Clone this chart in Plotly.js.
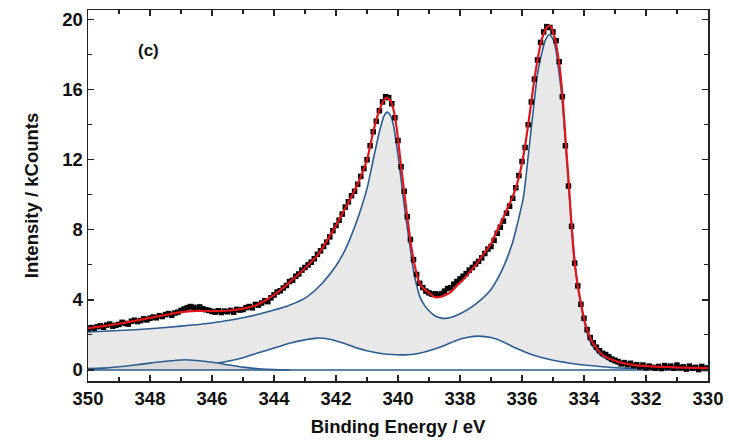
<!DOCTYPE html>
<html>
<head>
<meta charset="utf-8">
<script src="https://cdn.plot.ly/plotly-3.0.1.min.js"></script>
<style>
  html, body { margin: 0; padding: 0; background: #ffffff; }
  #plot { width: 729px; height: 445px; }
</style>
</head>
<body>
<div id="plot"></div>
<script>
// Measured spectrum: binding energy grid (eV) and intensity (kCounts)
const dataStart = 350.0;
const dataStep = -0.1;
const dataI = [
  2.35, 2.42, 2.38, 2.47, 2.52, 2.44, 2.56, 2.62, 2.50, 2.55,
  2.60, 2.72, 2.66, 2.62, 2.78, 2.84, 2.76, 2.82, 2.92, 2.86,
  2.95, 3.02, 2.98, 3.10, 3.05, 3.16, 3.22, 3.12, 3.25, 3.30,
  3.40, 3.48, 3.55, 3.62, 3.58, 3.52, 3.60, 3.50, 3.44, 3.40,
  3.34, 3.30, 3.38, 3.28, 3.36, 3.32, 3.40, 3.30, 3.46, 3.42,
  3.45, 3.56, 3.62, 3.55, 3.74, 3.70, 3.82, 3.95, 3.90, 4.12,
  4.28, 4.45, 4.52, 4.68, 4.82, 5.05, 5.12, 5.35, 5.48, 5.70,
  5.85, 6.00, 6.15, 6.35, 6.60, 6.80, 7.05, 7.30, 7.60, 7.95,
  8.25, 8.55, 8.90, 9.30, 9.60, 9.95, 10.20, 10.60, 11.05, 11.50,
  12.00, 12.80, 13.60, 14.20, 14.80, 15.30, 15.60, 15.55, 15.20, 14.40,
  13.10, 11.60, 10.20, 8.75, 7.45, 6.30, 5.45, 4.95, 4.70, 4.50,
  4.40, 4.32, 4.35, 4.28, 4.36, 4.50, 4.65, 4.70, 4.90, 5.05,
  5.20, 5.35, 5.50, 5.70, 5.85, 6.05, 6.20, 6.40, 6.65, 6.90,
  7.05, 7.40, 7.80, 8.15, 8.50, 8.95, 9.35, 9.80, 10.40, 11.10,
  11.90, 12.70, 14.00, 15.30, 16.60, 17.70, 18.70, 19.30, 19.60, 19.55,
  19.30, 18.80, 17.60, 15.60, 12.80, 10.50, 8.20, 6.10, 4.80, 3.75,
  2.95, 2.30, 1.85, 1.55, 1.30, 1.10, 0.95, 0.88, 0.75, 0.62,
  0.55, 0.48, 0.35, 0.42, 0.30, 0.38, 0.25, 0.30, 0.18, 0.28,
  0.12, 0.22, 0.15, 0.10, 0.20, 0.08, 0.25, 0.14, 0.22, 0.10,
  0.28, 0.12, 0.18, 0.05, 0.22, 0.10, 0.15, 0.02, 0.20, 0.08,
  0.12
];
const dataE = dataI.map((_, i) => +(dataStart + i * dataStep).toFixed(1));

// Total fit envelope
const envE = [350, 349.5, 349, 348.5, 348, 347.5, 347, 346.5, 346, 345.5, 345, 344.6, 344.2, 343.8,
  343.5, 343.16, 342.62, 342.08, 341.65, 341.33, 341.0, 340.8, 340.6, 340.45, 340.37, 340.25,
  340.15, 340.05, 339.95, 339.85, 339.72, 339.61, 339.5, 339.4, 339.3, 339.15, 339.0, 338.86,
  338.7, 338.54, 338.3, 338.11, 337.9, 337.68, 337.45, 337.25, 337.0, 336.82, 336.65, 336.5,
  336.3, 336.2, 336.1, 336.0, 335.9, 335.8, 335.7, 335.6, 335.5, 335.4, 335.3, 335.2, 335.12,
  335.05, 334.95, 334.88, 334.8, 334.72, 334.65, 334.58, 334.5, 334.42, 334.35, 334.28, 334.2,
  334.1, 334.0, 333.9, 333.7, 333.38, 332.95, 332.3, 331.2, 330];
const envI = [2.38, 2.5, 2.64, 2.8, 2.97, 3.14, 3.3, 3.37, 3.36, 3.38, 3.5, 3.68, 4.05, 4.55,
  5.0, 5.55, 6.5, 8.0, 9.4, 10.5, 12.0, 13.6, 14.85, 15.4, 15.55, 15.4,
  14.9, 13.9, 12.4, 10.9, 9.0, 7.5, 6.3, 5.5, 4.95, 4.6, 4.4, 4.2,
  4.15, 4.22, 4.45, 4.8, 5.15, 5.6, 6.1, 6.6, 7.2, 7.9, 8.5, 9.1,
  9.9, 10.4, 11.0, 11.8, 12.8, 14.0, 15.3, 16.6, 17.7, 18.6, 19.2, 19.55, 19.65,
  19.55, 19.0, 18.4, 17.5, 16.2, 14.6, 12.8, 10.9, 8.7, 7.0, 5.8, 4.8,
  3.8, 2.95, 2.3, 1.5, 0.83, 0.49, 0.26, 0.16, 0.1];

// Main doublet component on its background
const mainE = [350, 349, 348, 347, 346, 345.5, 345, 344.5, 344, 343.5, 343, 342.5, 342, 341.75,
  341.5, 341.25, 341.0, 340.8, 340.6, 340.45, 340.35, 340.25, 340.15, 340.05, 339.94, 339.8,
  339.7, 339.6, 339.5, 339.4, 339.3, 339.15, 339.0, 338.8, 338.6, 338.4, 338.2, 338.0, 337.7,
  337.35, 337.0, 336.7, 336.5, 336.3, 336.1, 335.95, 335.8, 335.65, 335.5, 335.4, 335.25,
  335.12, 335.0, 334.9, 334.8, 334.72, 334.65, 334.58, 334.5, 334.43, 334.35, 334.28, 334.2,
  334.1, 334.0, 333.9, 333.7, 333.5, 333.38, 333.0, 332.5, 332.0, 331.0, 330.0];
const mainI = [2.17, 2.25, 2.35, 2.50, 2.68, 2.82, 2.98, 3.18, 3.42, 3.70, 4.10, 4.85, 5.95, 6.7,
  7.7, 8.9, 10.35, 12.0, 13.6, 14.5, 14.72, 14.55, 14.0, 12.9, 11.45, 9.4,
  8.1, 6.9, 5.65, 4.85, 4.2, 3.7, 3.38, 3.08, 2.96, 2.96, 3.05, 3.21, 3.5,
  3.97, 4.6, 5.5, 6.3, 7.3, 8.7, 9.9, 12.2, 14.6, 16.9, 17.8, 18.8,
  19.15, 18.9, 18.2, 16.9, 15.7, 14.2, 12.5, 10.6, 9.0, 7.3, 5.9, 4.85,
  3.75, 2.85, 2.1, 1.3, 0.9, 0.73, 0.38, 0.22, 0.15, 0.11, 0.09];

// Satellite doublet component
const satE = [350, 349, 348, 347, 346.5, 346, 345.5, 345, 344.5, 344, 343.5, 343, 342.6, 342.2,
  341.8, 341.4, 341.0, 340.6, 340.2, 339.9, 339.5, 339.0, 338.5, 338.1, 337.7, 337.4, 337.0,
  336.6, 336.2, 335.8, 335.4, 335.0, 334.5, 334.0, 333.5, 333.0, 332.0, 331.0, 330.0];
const satI = [0.08, 0.12, 0.17, 0.23, 0.28, 0.35, 0.5, 0.7, 0.98, 1.25, 1.52, 1.72, 1.82, 1.75,
  1.55, 1.3, 1.1, 0.95, 0.88, 0.86, 0.9, 1.1, 1.4, 1.7, 1.88, 1.93, 1.85,
  1.6, 1.25, 0.95, 0.72, 0.55, 0.4, 0.28, 0.2, 0.13, 0.08, 0.06, 0.05];

// Minor high-energy component
const minorE = [350, 349.5, 349, 348.5, 348, 347.5, 347, 346.9, 346.5, 346, 345.5, 345, 344.5, 344, 343.5];
const minorI = [0.04, 0.1, 0.18, 0.28, 0.39, 0.5, 0.57, 0.58, 0.54, 0.44, 0.3, 0.16, 0.07, 0.02, 0.0];

// Flat baseline
const baseE = [350, 330];
const baseI = [0, 0];

const blue = '#2b5c8f';
const fontFamily = 'Liberation Sans, Arial, sans-serif';
const axisFont = { family: fontFamily, size: 18.5, color: '#111111', weight: 'bold' };

const traces = [
  { x: mainE, y: mainI, type: 'scatter', mode: 'lines', fill: 'tozeroy', fillcolor: '#e8e8e8',
    line: { color: blue, width: 1.6, shape: 'spline', smoothing: 0.6 }, hoverinfo: 'skip' },
  { x: satE, y: satI, type: 'scatter', mode: 'lines', fill: 'tozeroy', fillcolor: '#ffffff',
    line: { color: blue, width: 1.6, shape: 'spline', smoothing: 0.8 }, hoverinfo: 'skip' },
  { x: minorE, y: minorI, type: 'scatter', mode: 'lines', fill: 'tozeroy', fillcolor: '#dadada',
    line: { color: blue, width: 1.6, shape: 'spline', smoothing: 0.8 }, hoverinfo: 'skip' },
  { x: baseE, y: baseI, type: 'scatter', mode: 'lines',
    line: { color: blue, width: 1.6 }, hoverinfo: 'skip' },
  { x: dataE, y: dataI, type: 'scatter', mode: 'markers',
    marker: { symbol: 'square', size: 5.5, color: '#000000' } },
  { x: envE, y: envI, type: 'scatter', mode: 'lines',
    line: { color: '#e0161b', width: 2.2, shape: 'spline', smoothing: 0.6 }, hoverinfo: 'skip' }
];

const layout = {
  width: 729, height: 445,
  margin: { l: 88, r: 21, t: 10, b: 64 },
  paper_bgcolor: '#ffffff', plot_bgcolor: '#ffffff',
  showlegend: false,
  font: axisFont,
  xaxis: {
    range: [350, 330], autorange: false,
    dtick: 2, tick0: 330,
    ticks: 'inside', ticklen: 6, tickwidth: 1.3, tickcolor: '#222',
    minor: { dtick: 1, ticks: 'inside', ticklen: 4, tickwidth: 1.1, tickcolor: '#222' },
    showline: true, linecolor: '#222', linewidth: 1.5, mirror: 'allticks',
    showgrid: false, zeroline: false,
    tickfont: axisFont,
    title: { text: 'Binding Energy / eV', font: axisFont, standoff: 12 }
  },
  yaxis: {
    range: [-0.63, 20.55], autorange: false,
    dtick: 4, tick0: 0,
    ticks: 'inside', ticklen: 6, tickwidth: 1.3, tickcolor: '#222',
    minor: { dtick: 2, ticks: 'inside', ticklen: 4, tickwidth: 1.1, tickcolor: '#222' },
    showline: true, linecolor: '#222', linewidth: 1.5, mirror: 'allticks',
    showgrid: false, zeroline: false,
    tickfont: axisFont,
    title: { text: 'Intensity / kCounts', font: axisFont, standoff: 18 }
  },
  annotations: [
    { x: 0.097, y: 0.892, xref: 'paper', yref: 'paper', xanchor: 'center', yanchor: 'middle',
      text: '(c)', showarrow: false,
      font: { family: fontFamily, size: 17, color: '#111', weight: 'bold' } }
  ]
};

Plotly.newPlot('plot', traces, layout, { displayModeBar: false, staticPlot: true });
</script>
</body>
</html>
